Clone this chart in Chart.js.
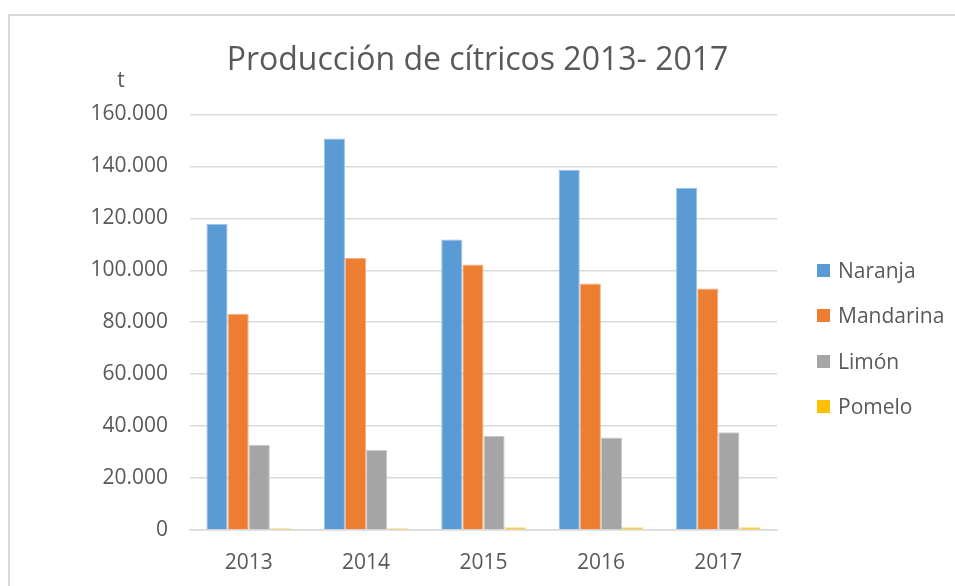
<!DOCTYPE html>
<html>
<head>
<meta charset="utf-8">
<script src="https://cdn.jsdelivr.net/npm/chart.js@4.4.1/dist/chart.umd.min.js"></script>
<style>
  html, body { margin: 0; padding: 0; background: #fff; }
  body { width: 955px; height: 586px; position: relative; overflow: hidden; font-family: "Open Sans", sans-serif; }
  .frame { position: absolute; left: 8px; top: 14px; width: 1000px; height: 700px; border-left: 2px solid #d9d9d9; border-top: 2px solid #d9d9d9; }
  .wrap { position: absolute; left: 0; top: 0; width: 955px; height: 586px; }
  #legend { position: absolute; left: 817px; top: 256px; }
  .item { height: 45.3px; display: flex; align-items: flex-start; font-size: 21px; color: #595959; line-height: 28px; }
  .box { width: 13px; height: 13px; margin: 8px 8px 0 0; }
</style>
</head>
<body>
<div class="frame"></div>
<div class="wrap"><canvas id="myChart" width="955" height="586"></canvas></div>
<div id="legend"></div>
<script>
var years = ["2013", "2014", "2015", "2016", "2017"];
var naranja = [117800, 150700, 111800, 138700, 131800];
var mandarina = [83300, 104700, 102200, 94900, 93000];
var limon = [32800, 30800, 36200, 35600, 37600];
var pomelo = [700, 700, 1100, 1100, 1100];
var seriesNames = ["Naranja", "Mandarina", "Limón", "Pomelo"];
var colors = ["#5b9bd5", "#ed7d31", "#a5a5a5", "#ffc000"];
var edges = ["#9dc3e6", "#f4b183", "#c9c9c9", "#ffd966"];
var yTicks = [0, 20000, 40000, 60000, 80000, 100000, 120000, 140000, 160000];

function fmt(v) {
    return v.toString().replace(/\B(?=(\d{3})+(?!\d))/g, ".");
}

var allData = [naranja, mandarina, limon, pomelo];
var datasets = allData.map(function (d, i) {
    return {
        label: seriesNames[i],
        data: d,
        backgroundColor: colors[i],
        borderColor: edges[i],
        borderWidth: 1
    };
});

// unit label "t" above the value axis
var unitLabel = {
    id: "unitLabel",
    afterDraw: function (chart) {
        var c = chart.ctx;
        var a = chart.chartArea;
        c.save();
        c.font = "21px 'Open Sans'";
        c.fillStyle = "#595959";
        c.textAlign = "center";
        c.textBaseline = "middle";
        c.fillText("t", a.left - 69, a.top - 33);
        c.restore();
    }
};

var ctx = document.getElementById("myChart").getContext('2d');
var myChart = new Chart(ctx, {
    type: 'bar',
    data: {
        labels: years,
        datasets: datasets
    },
    options: {
        responsive: false,
        animation: false,
        layout: { padding: { left: 0, right: 0, top: 0, bottom: 12 } },
        datasets: { bar: { categoryPercentage: 0.72, barPercentage: 1 } },
        plugins: {
            legend: { display: false },
            tooltip: { enabled: false },
            title: {
                display: true,
                text: "Producción de cítricos 2013- 2017",
                color: "#595959",
                font: { family: "'Open Sans'", size: 32, weight: 'normal' },
                padding: { top: 42, bottom: 34 }
            }
        },
        scales: {
            x: {
                afterFit: function (scale) { scale.height = 44; },
                grid: { display: false, drawTicks: false },
                border: { display: true, color: "#d9d9d9", width: 1.5 },
                ticks: { color: "#595959", font: { family: "'Open Sans'", size: 21 }, padding: 20 }
            },
            y: {
                min: 0,
                max: 160000,
                afterFit: function (scale) { scale.width = 190; },
                afterBuildTicks: function (scale) {
                    scale.ticks = yTicks.map(function (v) { return { value: v }; });
                },
                grid: { color: "#d9d9d9", lineWidth: 1.5, drawTicks: false },
                border: { display: false },
                ticks: {
                    color: "#595959",
                    font: { family: "'Open Sans'", size: 21 },
                    padding: 22,
                    callback: function (v) { return fmt(v); }
                }
            },
            // empty right-hand scale that reserves room for the legend
            legendSpace: {
                type: 'linear',
                position: 'right',
                display: true,
                afterFit: function (scale) { scale.width = 178; },
                grid: { display: false, drawTicks: false },
                border: { display: false },
                ticks: { display: false }
            }
        }
    },
    plugins: [unitLabel]
});

var legendEl = document.getElementById("legend");
seriesNames.forEach(function (name, i) {
    var row = document.createElement("div");
    row.className = "item";
    var box = document.createElement("span");
    box.className = "box";
    box.style.background = colors[i];
    var txt = document.createElement("span");
    txt.textContent = name;
    row.appendChild(box);
    row.appendChild(txt);
    legendEl.appendChild(row);
});
</script>
</body>
</html>
